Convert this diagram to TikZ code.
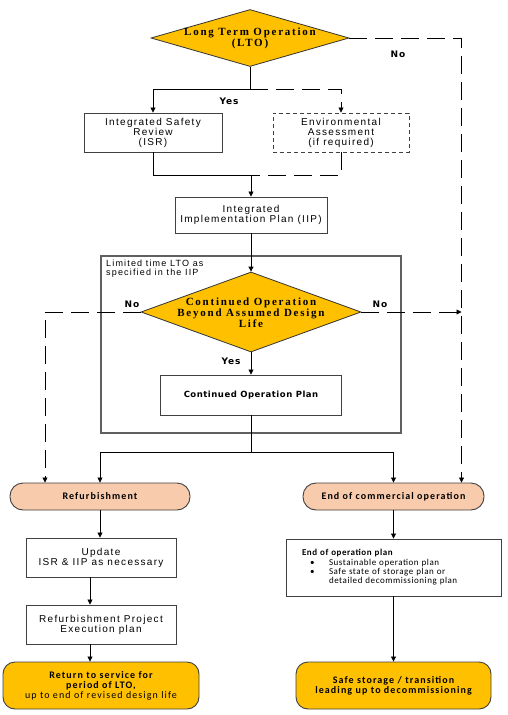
\documentclass[tikz,border=0pt]{standalone}
\usepackage{fontspec}
\usetikzlibrary{shapes.geometric,arrows.meta,calc}
\newfontfamily\dserif[LetterSpace=16]{Liberation Serif}
\newfontfamily\barial[LetterSpace=13]{Liberation Sans}
\newfontfamily\bdeja[LetterSpace=6]{DejaVu Sans}
\newfontfamily\ldeja[LetterSpace=10]{DejaVu Sans}
\newfontfamily\bcali[LetterSpace=11]{Carlito}
\newfontfamily\ecali[LetterSpace=6]{Carlito}
\definecolor{gold}{HTML}{FFC000}
\definecolor{peach}{HTML}{F8CBAD}
\definecolor{edge}{HTML}{404040}
\definecolor{frame}{HTML}{606060}
\begin{document}
\begin{tikzpicture}[x=1pt,y=-1pt,
  decision/.style={diamond, draw=black!80, line width=0.8pt, fill=gold, inner sep=0pt},
  dtext/.style={font=\dserif\bfseries\fontsize{11}{11}\selectfont, align=center, inner sep=0pt},
  plainbox/.style={rectangle, draw=edge, line width=0.9pt, fill=white, inner sep=0pt, align=center, font=\barial\fontsize{10}{10}\selectfont},
  dashbox/.style={plainbox, dash pattern=on 4pt off 3pt},
  term/.style={rectangle, rounded corners=13pt, draw=edge, line width=0.9pt, fill=peach, inner sep=0pt, align=center, font=\bcali\bfseries\fontsize{10}{10}\selectfont},
  goal/.style={rectangle, rounded corners=12pt, draw=edge, line width=0.9pt, fill=gold, inner sep=0pt, align=center, font=\bcali\fontsize{10}{10}\selectfont},
  lbl/.style={font=\ldeja\bfseries\fontsize{9}{9}\selectfont, inner sep=0pt},
  conn/.style={draw=black, line width=0.8pt},
  arr/.style={conn, -{Triangle[length=5pt,width=5pt]}},
  longdash/.style={dash pattern=on 18pt off 8pt},
]
\useasboundingbox[fill=white] (0,0) rectangle (508,715);

% nodes
\node[decision, minimum width=198pt, minimum height=57pt] (lto) at (250,38) {};
\node[dtext] (ltot) at (250,38.5) {Long Term Operation\\(LTO)};
\node[plainbox, minimum width=138pt, minimum height=39pt] (isr) at (153,132.5) {Integrated Safety\\Review\\(ISR)};
\node[dashbox, minimum width=136pt, minimum height=39pt] (ea) at (341,132.5) {Environmental\\Assessment\\(if required)};
\node[plainbox, minimum width=152pt, minimum height=36pt] (iip) at (251,215) {Integrated\\Implementation Plan (IIP)};
\node[draw=frame, line width=1.1pt, minimum width=300pt, minimum height=177pt, inner sep=0pt] (ltd) at (251,344.5) {};
\node[anchor=north west, align=left, inner sep=0pt, font=\barial\fontsize{9}{9}\selectfont] (ltdt) at (106,260) {Limited time LTO as\\specified in the IIP};
\node[decision, minimum width=220pt, minimum height=80pt] (co) at (251,312) {};
\node[dtext] (cot) at (251,312.5) {Continued Operation\\Beyond Assumed Design\\Life};
\node[plainbox, minimum width=181pt, minimum height=40pt, font=\bdeja\bfseries\fontsize{8.5}{8.5}\selectfont] (cop) at (251,395) {Continued Operation Plan};
\node[term, minimum width=180pt, minimum height=27pt] (ref) at (100,496.5) {Refurbishment};
\node[term, minimum width=181pt, minimum height=27pt] (eco) at (393.5,496.5) {End of commercial operation};
\node[plainbox, minimum width=150pt, minimum height=39pt] (upd) at (101,557.5) {Update\\ISR \& IIP as necessary};
\node[plainbox, minimum width=150pt, minimum height=39pt] (rpe) at (101,624.5) {Refurbishment Project\\Execution plan};
\node[goal, minimum width=196pt, minimum height=47pt] (ret) at (101,685.5) {{\bfseries Return to service for}\\{\bfseries period of LTO,}\\up to end of revised design life};
\node[plainbox, minimum width=215pt, minimum height=57pt, text width=215pt, align=left, font=\ecali\fontsize{9}{9.3}\selectfont] (eop) at (393.5,567.5)
  {\hspace*{16pt}{\bfseries End of operation plan}\\
   \hspace*{24pt}\makebox[19pt][l]{•}Sustainable operation plan\\
   \hspace*{24pt}\makebox[19pt][l]{•}Safe state of storage plan or\\
   \hspace*{43pt}detailed decommissioning plan};
\node[goal, minimum width=195pt, minimum height=47pt, font=\bcali\bfseries\fontsize{10}{10}\selectfont] (safe) at (393.5,685.5) {Safe storage / transition\\leading up to decommissioning};

% labels
\node[lbl] (yes1) at (229,101) {Yes};
\node[lbl] (no1) at (398,54) {No};
\node[lbl] (no2) at (132,304) {No};
\node[lbl] (no3) at (380,304) {No};
\node[lbl] (yes2) at (231,361) {Yes};

% connectors
\coordinate (s1) at (250,89);
\draw[conn] (lto.south) -- (s1);
\draw[arr] (s1) -| (isr.north);
\draw[arr, longdash] (s1) -| (ea.north);
\coordinate (ecoin) at ($(eco.north)+(68,0)$);
\draw[arr, longdash] (lto.east) -| (ecoin);
\coordinate (j1) at (251,175);
\draw[conn] (isr.south) |- (j1);
\draw[conn, longdash] (ea.south) |- (j1);
\draw[arr] (j1) -- (iip.north);
\draw[arr] (iip.south) -- (co.north);
\coordinate (refin) at ($(ref.north)+(-55,0)$);
\draw[arr, longdash] (co.west) -| (refin);
\draw[arr, longdash] (co.east) -- (co.east -| ecoin);
\draw[arr] (co.south) -- (cop.north);
\coordinate (s2) at (251,452);
\draw[conn] (cop.south) -- (s2);
\draw[arr] (s2) -| (ref.north);
\draw[arr] (s2) -| (eco.north);
\draw[arr] (ref.south) -- (ref.south |- upd.north);
\coordinate (c1) at ($(upd.south)+(-11,0)$);
\draw[arr] (c1) -- (c1 |- rpe.north);
\coordinate (c2) at ($(rpe.south)+(-11,0)$);
\draw[arr] (c2) -- (c2 |- ret.north);
\draw[arr] (eco.south) -- (eco.south |- eop.north);
\draw[arr] (eop.south) -- (eop.south |- safe.north);
\end{tikzpicture}
\end{document}
